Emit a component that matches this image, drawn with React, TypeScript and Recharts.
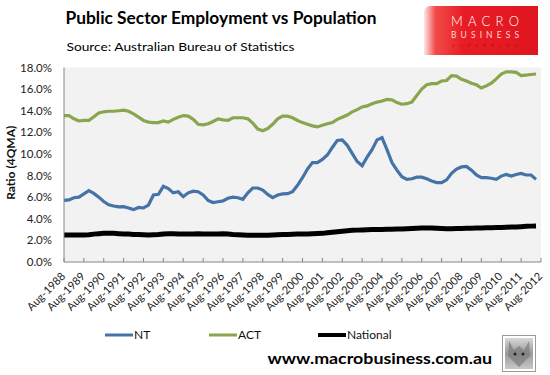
import React from 'react';
import { LineChart, Line, XAxis, YAxis, CartesianGrid, Label } from 'recharts';

// Quarterly, 4-quarter moving average, Aug-1988 .. May-2012
const ntValues = [
  5.7, 5.75, 5.95, 6.0, 6.3, 6.6, 6.35, 6.0, 5.6, 5.3, 5.18, 5.1, 5.12, 5.0, 4.85, 5.05,
  5.0, 5.27, 6.2, 6.26, 7.0, 6.8, 6.4, 6.5, 6.05, 6.4, 6.55, 6.5, 6.2, 5.7, 5.5, 5.58,
  5.65, 5.9, 6.0, 5.95, 5.8, 6.4, 6.85, 6.85, 6.65, 6.25, 5.95, 6.2, 6.3, 6.32, 6.5, 7.1,
  7.8, 8.6, 9.2, 9.2, 9.5, 9.9, 10.6, 11.25, 11.3, 10.8, 10.05, 9.3, 8.9, 9.7, 10.4, 11.3,
  11.5, 10.4, 9.2, 8.5, 7.9, 7.65, 7.7, 7.85, 7.85, 7.7, 7.5, 7.35, 7.35, 7.6, 8.2, 8.6,
  8.8, 8.85, 8.5, 8.05, 7.8, 7.8, 7.75, 7.65, 7.95, 8.1, 7.95, 8.1, 8.2, 8.05, 8.05, 7.65,
];

const actValues = [
  13.55, 13.55, 13.25, 13.05, 13.1, 13.1, 13.45, 13.8, 13.9, 13.95, 13.95, 14.0, 14.05, 13.95, 13.7, 13.4,
  13.1, 12.95, 12.9, 12.9, 13.05, 12.95, 13.2, 13.4, 13.55, 13.5, 13.2, 12.75, 12.7, 12.8, 13.0, 13.25,
  13.15, 13.1, 13.35, 13.35, 13.35, 13.25, 12.85, 12.3, 12.15, 12.35, 12.75, 13.25, 13.5, 13.5, 13.35, 13.1,
  12.9, 12.75, 12.6, 12.5, 12.65, 12.8, 12.9, 13.2, 13.4, 13.6, 13.9, 14.1, 14.35, 14.45, 14.65, 14.8,
  14.9, 15.05, 15.0, 14.75, 14.6, 14.65, 14.8, 15.4, 16.0, 16.4, 16.5, 16.5, 16.75, 16.8, 17.25, 17.2,
  16.9, 16.75, 16.55, 16.4, 16.1, 16.3, 16.55, 16.95, 17.4, 17.6, 17.6, 17.55, 17.25, 17.3, 17.35, 17.4,
];

const nationalValues = [
  2.5, 2.5, 2.5, 2.5, 2.5, 2.52, 2.58, 2.62, 2.65, 2.65, 2.65, 2.62, 2.6, 2.58, 2.55, 2.55,
  2.52, 2.5, 2.52, 2.55, 2.6, 2.62, 2.62, 2.6, 2.58, 2.58, 2.6, 2.62, 2.6, 2.58, 2.58, 2.6,
  2.62, 2.6, 2.55, 2.52, 2.5, 2.48, 2.48, 2.48, 2.48, 2.48, 2.5, 2.52, 2.55, 2.55, 2.57, 2.58,
  2.6, 2.6, 2.62, 2.63, 2.65, 2.7, 2.75, 2.8, 2.85, 2.9, 2.93, 2.95, 2.97, 2.98, 3.0, 3.0,
  3.0, 3.02, 3.02, 3.05, 3.05, 3.08, 3.1, 3.12, 3.15, 3.15, 3.15, 3.12, 3.1, 3.08, 3.08, 3.1,
  3.1, 3.12, 3.12, 3.15, 3.15, 3.17, 3.18, 3.2, 3.2, 3.22, 3.23, 3.25, 3.27, 3.3, 3.32, 3.33,
];

const xTickLabels = [
  'Aug-1988', 'Aug-1989', 'Aug-1990', 'Aug-1991', 'Aug-1992', 'Aug-1993', 'Aug-1994', 'Aug-1995',
  'Aug-1996', 'Aug-1997', 'Aug-1998', 'Aug-1999', 'Aug-2000', 'Aug-2001', 'Aug-2002', 'Aug-2003',
  'Aug-2004', 'Aug-2005', 'Aug-2006', 'Aug-2007', 'Aug-2008', 'Aug-2009', 'Aug-2010', 'Aug-2011',
  'Aug-2012',
];
const yTicks = [0, 2, 4, 6, 8, 10, 12, 14, 16, 18];

const seriesNames = ['NT', 'ACT', 'National'];
const seriesColors = ['#4572A7', '#89A54E', '#000000'];
const seriesWidths = [3.2, 3.2, 5];

const quartersPerYear = 4;
const data = ntValues.map((v, i) => ({
  q: i,
  nt: v,
  act: actValues[i],
  national: nationalValues[i],
}));
const xTicks = xTickLabels.map((_, k) => k * quartersPerYear);

const FONT = 'Lato, "Liberation Sans", sans-serif';

const XTick = (props: any) => {
  const { x, y, payload } = props;
  const label = xTickLabels[Math.round(payload.value / quartersPerYear)];
  const bx = x + 2;
  const by = y + 15;
  return (
    <g>
      <line x1={x} y1={y} x2={x} y2={y - 4} stroke="#868686" strokeWidth={1} />
      <text
        x={bx}
        y={by}
        textAnchor="end"
        transform={`rotate(-45 ${bx} ${by})`}
        fontSize={11}
        fontFamily={FONT}
        fill="#222"
      >
        {label}
      </text>
    </g>
  );
};

const YLabel = (props: any) => {
  const vb = props.viewBox || { x: 0, y: 0, width: 0, height: 0 };
  const cx = vb.x + 15;
  const cy = vb.y + vb.height / 2 - 2;
  return (
    <text
      x={cx}
      y={cy}
      textAnchor="middle"
      transform={`rotate(-90 ${cx} ${cy})`}
      fontSize={12}
      fontWeight="bold"
      fontFamily={FONT}
      fill="#111"
    >
      Ratio (4QMA)
    </text>
  );
};

export default function App() {
  const legendX = [105, 209, 318];
  return (
    <div
      style={{
        position: 'absolute',
        left: 0,
        top: 0,
        width: 550,
        height: 375,
        background: '#fff',
        overflow: 'hidden',
      }}
    >
      <LineChart
        width={550}
        height={375}
        data={data}
        margin={{ top: 67.5, right: 9, left: 0, bottom: 53 }}
      >
        <CartesianGrid fill="#f2f2f2" horizontal={false} vertical={false} stroke="none" />
        <XAxis
          dataKey="q"
          type="number"
          domain={[0, 96]}
          ticks={xTicks}
          interval={0}
          height={60}
          tickSize={0}
          tickMargin={0}
          tickLine={false}
          axisLine={{ stroke: '#868686' }}
          tick={<XTick />}
        />
        <YAxis
          type="number"
          domain={[0, 18]}
          ticks={yTicks}
          interval={0}
          width={64}
          tickSize={0}
          tickMargin={12}
          tickLine={false}
          axisLine={{ stroke: '#868686' }}
          tickFormatter={(v: number) => `${v.toFixed(1)}%`}
          tick={{ fontSize: 11.5, fontFamily: FONT, fill: '#222' }}
        >
          <Label content={<YLabel />} position="insideLeft" />
        </YAxis>
        <Line
          type="linear"
          dataKey="national"
          stroke={seriesColors[2]}
          strokeWidth={seriesWidths[2]}
          dot={false}
          isAnimationActive={false}
        />
        <Line
          type="linear"
          dataKey="act"
          stroke={seriesColors[1]}
          strokeWidth={seriesWidths[1]}
          dot={false}
          isAnimationActive={false}
        />
        <Line
          type="linear"
          dataKey="nt"
          stroke={seriesColors[0]}
          strokeWidth={seriesWidths[0]}
          dot={false}
          isAnimationActive={false}
        />
      </LineChart>

      <svg
        width={550}
        height={375}
        style={{ position: 'absolute', left: 0, top: 0, pointerEvents: 'none' }}
      >
        <defs>
          <linearGradient id="logoGrad" x1="0" y1="0" x2="1" y2="0">
            <stop offset="0" stopColor="#ffe6e6" />
            <stop offset="0.1" stopColor="#f24a4a" />
            <stop offset="0.35" stopColor="#e81c24" />
            <stop offset="1" stopColor="#e0161e" />
          </linearGradient>
          <linearGradient id="wolfGrad" x1="0" y1="0" x2="0" y2="1">
            <stop offset="0" stopColor="#d8d8d8" />
            <stop offset="0.5" stopColor="#9a9a9a" />
            <stop offset="1" stopColor="#c8c8c8" />
          </linearGradient>
        </defs>

        {/* Title */}
        <text
          x={65.5}
          y={23.5}
          fontSize={16.5}
          fontWeight="bold"
          fontFamily={FONT}
          fill="#000"
          textLength={311}
          lengthAdjust="spacingAndGlyphs"
        >
          Public Sector Employment vs Population
        </text>
        <text
          x={66.5}
          y={50.5}
          fontSize={12}
          fontFamily={FONT}
          fill="#000"
          textLength={228}
          lengthAdjust="spacingAndGlyphs"
        >
          Source: Australian Bureau of Statistics
        </text>

        {/* Logo */}
        <path d="M431,6 H538 V55 H424 V13 Q424,6 431,6 Z" fill="url(#logoGrad)" />
        <text
          x={451}
          y={25.5}
          fontSize={13}
          fontFamily={FONT}
          fontWeight={300}
          fill="#fff"
          textLength={68}
          lengthAdjust="spacing"
        >
          MACRO
        </text>
        <text
          x={451}
          y={37.5}
          fontSize={8.5}
          fontFamily={FONT}
          fill="#ffd9d9"
          textLength={68}
          lengthAdjust="spacing"
        >
          BUSINESS
        </text>
        <text
          x={452}
          y={46.5}
          fontSize={4.5}
          fontFamily={FONT}
          fill="#b01010"
          textLength={66}
          lengthAdjust="spacing"
        >
          SUPERBLOG
        </text>

        {/* Legend */}
        {seriesNames.map((name, k) => (
          <g key={name}>
            <line
              x1={legendX[k]}
              y1={335}
              x2={legendX[k] + 28}
              y2={335}
              stroke={seriesColors[k]}
              strokeWidth={k === 2 ? 4 : 3}
            />
            <text
              x={legendX[k] + 29}
              y={339}
              fontSize={12}
              fontFamily={FONT}
              fill="#111"
            >
              {name}
            </text>
          </g>
        ))}

        {/* Footer */}
        <text
          x={267.5}
          y={364}
          fontSize={15}
          fontWeight="bold"
          fontFamily={FONT}
          fill="#000"
          textLength={224.5}
          lengthAdjust="spacingAndGlyphs"
        >
          www.macrobusiness.com.au
        </text>
        <rect x={502.5} y={335.5} width={33} height={36} fill="#fff" stroke="#9a9a9a" strokeWidth={1} />
        <rect x={505} y={338} width={28} height={31} fill="url(#wolfGrad)" />
        <path
          d="M509,341 L514,350 L519,346 L524,350 L529,341 L530,356 L519,367 L508,356 Z"
          fill="#7a7a7a"
          opacity={0.7}
        />
        <circle cx={515} cy={354} r={1.5} fill="#222" />
        <circle cx={523} cy={354} r={1.5} fill="#222" />
      </svg>
    </div>
  );
}
